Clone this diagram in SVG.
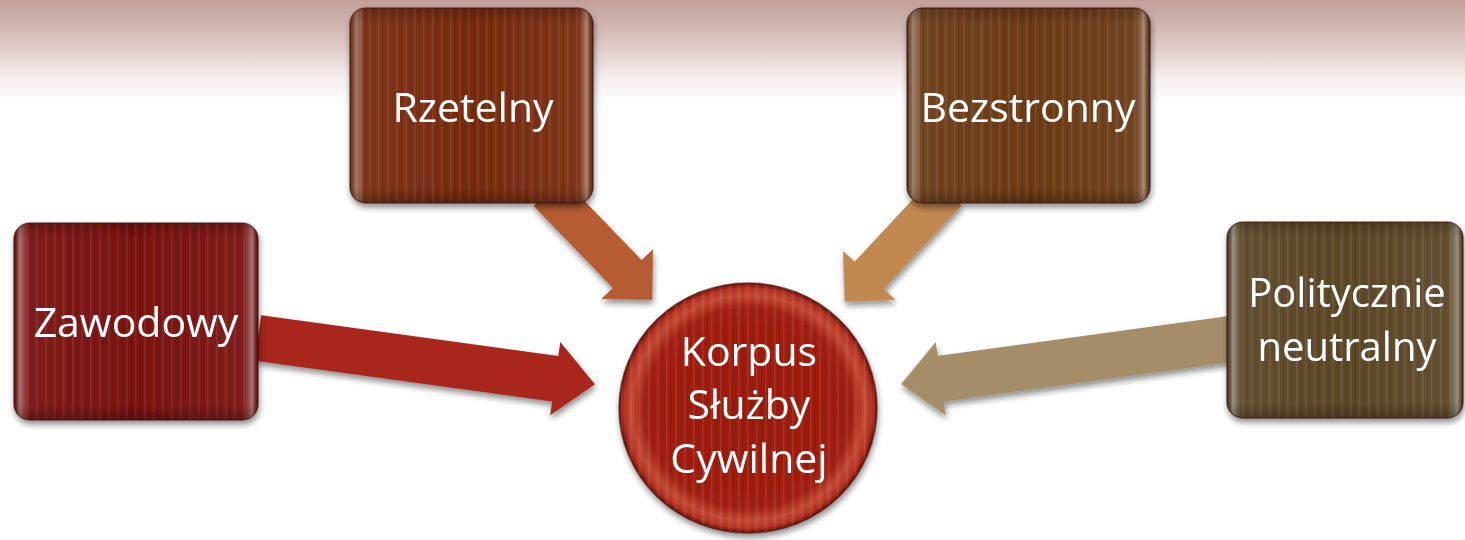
<svg xmlns="http://www.w3.org/2000/svg" width="1465" height="540" viewBox="0 0 1465 540">
<defs>
<style>
.lbl{font-family:"Open Sans","Noto Sans","Liberation Sans",sans-serif;font-size:41px;fill:#ffffff;text-anchor:middle}
.lbl2{font-family:"Open Sans","Noto Sans","Liberation Sans",sans-serif;font-size:40px;fill:#ffffff;text-anchor:middle}
.edge{fill:none;stroke:#3a0c06;stroke-opacity:0.55;stroke-width:1.5}
</style>
<linearGradient id="bg" x1="0" y1="0" x2="0" y2="1">
<stop offset="0" stop-color="#c29e98"/>
<stop offset="0.4" stop-color="#dbc5c1"/>
<stop offset="0.75" stop-color="#f6efee"/>
<stop offset="1" stop-color="#ffffff"/>
</linearGradient>
<linearGradient id="gloss" x1="0" y1="0" x2="1" y2="0">
<stop offset="0" stop-color="#000" stop-opacity="0.25"/>
<stop offset="0.025" stop-color="#fff" stop-opacity="0.38"/>
<stop offset="0.06" stop-color="#fff" stop-opacity="0.05"/>
<stop offset="0.5" stop-color="#fff" stop-opacity="0"/>
<stop offset="0.94" stop-color="#fff" stop-opacity="0.05"/>
<stop offset="0.975" stop-color="#fff" stop-opacity="0.38"/>
<stop offset="1" stop-color="#000" stop-opacity="0.25"/>
</linearGradient>
<linearGradient id="vshade" x1="0" y1="0" x2="0" y2="1">
<stop offset="0" stop-color="#000" stop-opacity="0.2"/>
<stop offset="0.08" stop-color="#000" stop-opacity="0"/>
<stop offset="0.92" stop-color="#000" stop-opacity="0"/>
<stop offset="1" stop-color="#000" stop-opacity="0.25"/>
</linearGradient>
<pattern id="stripes" width="9" height="10" patternUnits="userSpaceOnUse">
<rect x="0" y="0" width="1.5" height="10" fill="#fff" fill-opacity="0.09"/>
<rect x="4.5" y="0" width="1.5" height="10" fill="#000" fill-opacity="0.07"/>
</pattern>
<radialGradient id="circ" cx="0.5" cy="0.5" r="0.5">
<stop offset="0" stop-color="#981a0c"/>
<stop offset="0.8" stop-color="#a32012"/>
<stop offset="0.9" stop-color="#c44a36"/>
<stop offset="0.96" stop-color="#b53424"/>
<stop offset="1" stop-color="#6e1008"/>
</radialGradient>
<filter id="sh" x="-20%" y="-20%" width="140%" height="150%">
<feGaussianBlur in="SourceAlpha" stdDeviation="3"/>
<feOffset dx="1" dy="4" result="b"/>
<feComponentTransfer><feFuncA type="linear" slope="0.45"/></feComponentTransfer>
<feMerge><feMergeNode/><feMergeNode in="SourceGraphic"/></feMerge>
</filter>
<path id="arrowLong" d="M0,-23 L300,-23 L300,-37 L340,0 L300,37 L300,23 L0,23 Z"/>
<path id="arrowShort" d="M0,-20 L114,-20 L114,-36 L150,0 L114,36 L114,20 L0,20 Z"/>
</defs>
<rect x="0" y="0" width="1465" height="540" fill="#ffffff"/>
<rect x="0" y="0" width="1465" height="105" fill="url(#bg)"/>

<g id="connectors" filter="url(#sh)">
<use href="#arrowLong" transform="translate(258,338) rotate(7.8)" fill="#a8281d"/>
<use href="#arrowShort" transform="translate(548,192) rotate(46)" fill="#b65b30"/>
<use href="#arrowShort" transform="translate(947,192) rotate(133)" fill="#c28851"/>
<use href="#arrowLong" transform="translate(1238,338) rotate(172.2)" fill="#a48d68"/>
</g>

<g id="node-zawodowy" filter="url(#sh)">
<rect x="14" y="223" width="244" height="197" rx="16" fill="#7a1210"/>
<rect x="14" y="223" width="244" height="197" rx="16" fill="url(#stripes)"/>
<rect x="14" y="223" width="244" height="197" rx="16" fill="url(#gloss)"/>
<rect x="14" y="223" width="244" height="197" rx="16" fill="url(#vshade)"/>
<rect x="14" y="223" width="244" height="197" rx="16" class="edge"/>
<text class="lbl" x="136" y="337">Zawodowy</text>
</g>

<g id="node-rzetelny" filter="url(#sh)">
<rect x="350" y="8" width="243" height="195" rx="16" fill="#782b0e"/>
<rect x="350" y="8" width="243" height="195" rx="16" fill="url(#stripes)"/>
<rect x="350" y="8" width="243" height="195" rx="16" fill="url(#gloss)"/>
<rect x="350" y="8" width="243" height="195" rx="16" fill="url(#vshade)"/>
<rect x="350" y="8" width="243" height="195" rx="16" class="edge"/>
<text class="lbl" x="473" y="122">Rzetelny</text>
</g>

<g id="node-bezstronny" filter="url(#sh)">
<rect x="907" y="8" width="243" height="195" rx="16" fill="#6c3b16"/>
<rect x="907" y="8" width="243" height="195" rx="16" fill="url(#stripes)"/>
<rect x="907" y="8" width="243" height="195" rx="16" fill="url(#gloss)"/>
<rect x="907" y="8" width="243" height="195" rx="16" fill="url(#vshade)"/>
<rect x="907" y="8" width="243" height="195" rx="16" class="edge"/>
<text class="lbl" x="1028" y="122">Bezstronny</text>
</g>

<g id="node-politycznie" filter="url(#sh)">
<rect x="1227" y="222" width="236" height="196" rx="16" fill="#5c4727"/>
<rect x="1227" y="222" width="236" height="196" rx="16" fill="url(#stripes)"/>
<rect x="1227" y="222" width="236" height="196" rx="16" fill="url(#gloss)"/>
<rect x="1227" y="222" width="236" height="196" rx="16" fill="url(#vshade)"/>
<rect x="1227" y="222" width="236" height="196" rx="16" class="edge"/>
<text class="lbl2" x="1347" y="307">Politycznie</text>
<text class="lbl2" x="1347" y="361">neutralny</text>
</g>

<g id="node-korpus" filter="url(#sh)">
<ellipse cx="748" cy="408" rx="129" ry="125" fill="url(#circ)"/>
<ellipse cx="748" cy="408" rx="129" ry="125" fill="url(#stripes)"/>
<ellipse cx="748" cy="408" rx="129" ry="125" class="edge"/>
<text class="lbl" x="749" y="366">Korpus</text>
<text class="lbl" x="749" y="419">Służby</text>
<text class="lbl" x="749" y="473">Cywilnej</text>
</g>
</svg>
